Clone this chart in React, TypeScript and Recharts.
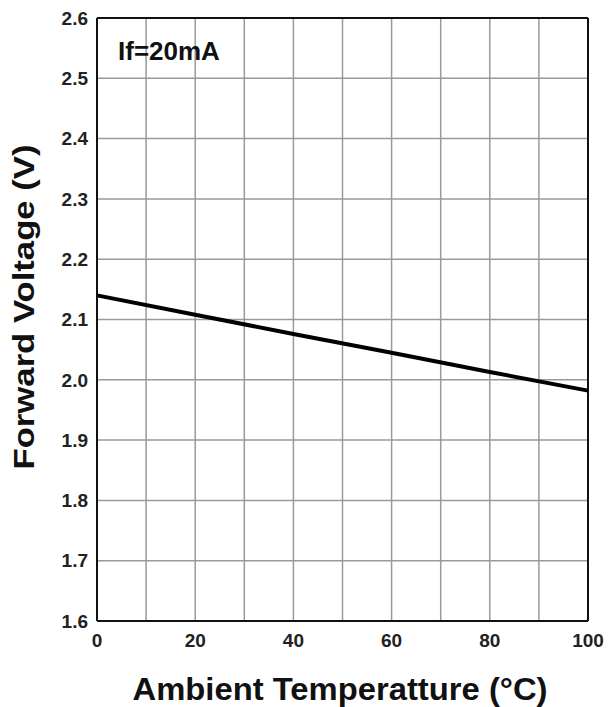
import { LineChart, Line, XAxis, YAxis, CartesianGrid, ReferenceLine } from 'recharts';

const temperatures = [0, 20, 40, 60, 80, 100];
const forwardVoltage = [2.14, 2.108, 2.076, 2.045, 2.013, 1.982];

const xTicks = [0, 10, 20, 30, 40, 50, 60, 70, 80, 90, 100];
const yTicks = [1.6, 1.7, 1.8, 1.9, 2.0, 2.1, 2.2, 2.3, 2.4, 2.5, 2.6];

const chartData = temperatures.map((t, i) => ({ temp: t, vf: forwardVoltage[i] }));

const FONT = '"Liberation Sans", Arial, sans-serif';

// y title is a bit stretched in the original, so pin its length
const YLabel = () => {
  const cx = 34;
  const cy = 307;
  return (
    <text
      x={cx}
      y={cy}
      transform={`rotate(-90, ${cx}, ${cy})`}
      textAnchor="middle"
      fontFamily={FONT}
      fontWeight="bold"
      fontSize={29}
      textLength={325}
      lengthAdjust="spacingAndGlyphs"
      fill="#111"
    >
      Forward Voltage (V)
    </text>
  );
};

const XLabel = () => (
  <text
    x={340}
    y={700}
    textAnchor="middle"
    fontFamily={FONT}
    fontWeight="bold"
    fontSize={32}
    textLength={415}
    lengthAdjust="spacingAndGlyphs"
    fill="#111"
  >
    Ambient Temperatture (°C)
  </text>
);

export default function App() {
  return (
    <div style={{ position: 'absolute', left: 0, top: 0, width: 609, height: 707, background: '#fff' }}>
      <LineChart width={609} height={707} data={chartData} margin={{ top: 18, right: 21, bottom: 0, left: 0 }}>
        <CartesianGrid stroke="#9a9a9a" strokeWidth={1.5} horizontalValues={yTicks} verticalValues={xTicks} />
        <XAxis
          dataKey="temp"
          type="number"
          domain={[0, 100]}
          ticks={xTicks}
          interval={0}
          tickFormatter={(v: number) => (v % 20 === 0 ? String(v) : '')}
          height={86}
          tickLine={false}
          tickSize={0}
          tickMargin={13}
          axisLine={{ stroke: '#111', strokeWidth: 2 }}
          tick={{ fill: '#222', fontSize: 19, fontWeight: 'bold', fontFamily: FONT }}
          label={<XLabel />}
        />
        <YAxis
          type="number"
          domain={[1.6, 2.6]}
          ticks={yTicks}
          interval={0}
          tickFormatter={(v: number) => v.toFixed(1)}
          width={97}
          tickLine={false}
          tickSize={0}
          tickMargin={9}
          axisLine={{ stroke: '#111', strokeWidth: 2 }}
          tick={{ fill: '#222', fontSize: 19, fontWeight: 'bold', fontFamily: FONT }}
          label={<YLabel />}
        />
        <ReferenceLine y={2.6} stroke="#111" strokeWidth={2} />
        <ReferenceLine x={100} stroke="#111" strokeWidth={2} />
        <Line
          type="linear"
          dataKey="vf"
          stroke="#000"
          strokeWidth={4}
          dot={false}
          isAnimationActive={false}
        />
      </LineChart>
      <div
        style={{
          position: 'absolute',
          left: 118,
          top: 36,
          fontFamily: FONT,
          fontWeight: 'bold',
          fontSize: 26,
          color: '#111',
          lineHeight: '30px',
        }}
      >
        If=20mA
      </div>
    </div>
  );
}
